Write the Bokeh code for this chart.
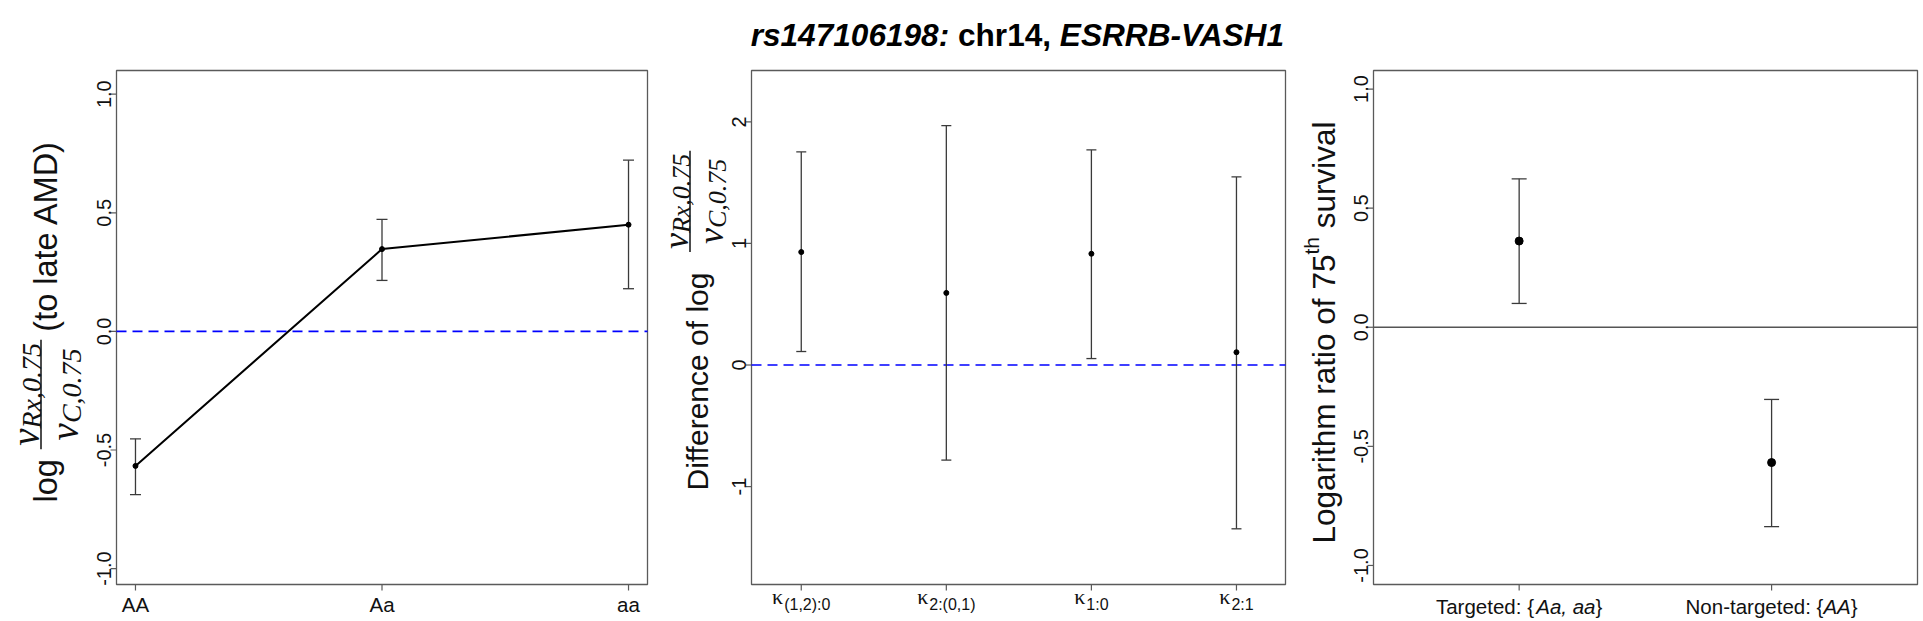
import math
from bokeh.plotting import figure
from bokeh.models import Range1d
from bokeh.core.properties import value
from bokeh.embed import file_html
from bokeh.resources import INLINE

# ---------------- data ----------------
genotypes = ["AA", "Aa", "aa"]
p1_est = [-0.567, 0.347, 0.450]
p1_lo = [-0.688, 0.215, 0.180]
p1_hi = [-0.453, 0.472, 0.722]

kappa_subs = ["(1,2):0", "2:(0,1)", "1:0", "2:1"]
p2_est = [0.929, 0.593, 0.915, 0.105]
p2_lo = [0.111, -0.782, 0.053, -1.347]
p2_hi = [1.752, 1.968, 1.769, 1.547]

group_names = ["Targeted: {", "Non-targeted: {"]
group_sets = ["Aa, aa", "AA"]
p3_est = [0.362, -0.568]
p3_lo = [0.100, -0.837]
p3_hi = [0.623, -0.303]

p1_yticks = [-1.0, -0.5, 0.0, 0.5, 1.0]
p1_ytick_labels = ["-1.0", "-0.5", "0.0", "0.5", "1.0"]
p2_yticks = [-1.0, 0.0, 1.0, 2.0]
p2_ytick_labels = ["-1", "0", "1", "2"]
p3_yticks = [-1.0, -0.5, 0.0, 0.5, 1.0]
p3_ytick_labels = ["-1.0", "-0.5", "0.0", "0.5", "1.0"]

title_parts = ["rs147106198:", "chr14,", "ESRRB-VASH1"]

# axis limits of each panel
p1_xlim, p1_ylim = (0.923, 3.077), (-1.067, 1.10)
p2_xlim, p2_ylim = (0.657, 4.338), (-1.805, 2.422)
p3_xlim, p3_ylim = (0.423, 2.578), (-1.08, 1.078)

# ---------------- fonts / metrics ----------------
SANS = "Liberation Sans"
SERIF = "Liberation Serif"
W_SANS = {' ': 278, '(': 333, ')': 333, ',': 278, '-': 333, '.': 278, ':': 278,
          '{': 334, '}': 334, 'A': 667, 'C': 722, 'D': 722, 'L': 556, 'M': 833,
          'N': 722, 'T': 611, 'a': 556, 'c': 500, 'd': 556, 'e': 556, 'f': 278,
          'g': 556, 'h': 556, 'i': 222, 'l': 222, 'm': 833, 'n': 556, 'o': 556,
          'r': 333, 's': 500, 't': 278, 'u': 556, 'v': 500}
for _d in "0123456789":
    W_SANS[_d] = 556
W_BOLD = {' ': 278, ',': 278, '-': 333, ':': 333, 'A': 722, 'B': 722, 'E': 667,
          'H': 722, 'R': 722, 'S': 667, 'V': 667, 'c': 556, 'h': 611, 'r': 389,
          's': 556}
for _d in "0123456789":
    W_BOLD[_d] = 556
W_SERIF_IT = {'R': 611, 'x': 444, ',': 250, '.': 250, 'C': 667, 'ν': 444}
for _d in "0123456789":
    W_SERIF_IT[_d] = 500


def tw(s, table, size):
    return sum(table[c] for c in s) * size / 1000.0


# ---------------- canvas ----------------
CW, CH = 1920, 620
T, BM = 70, 584                      # box top / bottom (px)
BOXES = {"p1": (116, 647), "p2": (751, 1285), "p3": (1373, 1917)}
EB = "#3a3a3a"
BOX = "#5a5a5a"
TXT = "#111111"
A90 = math.pi / 2


def xr_for(lim, L, R):
    a, b = lim
    k = (b - a) / (R - L)
    return Range1d(a - L * k, b + (CW - R) * k)


def yr_for(lim):
    c, d = lim
    k = (d - c) / (BM - T)
    return Range1d(c - (CH - BM) * k, d + T * k)


p = figure(width=CW, height=CH, x_range=Range1d(0, CW), y_range=Range1d(CH, 0),
           output_backend="svg", toolbar_location=None, title=None,
           x_axis_location=None, y_axis_location=None,
           min_border=0, min_border_left=0, min_border_right=0,
           min_border_top=0, min_border_bottom=0)
p.grid.visible = False
p.outline_line_color = None
p.background_fill_color = "white"
p.border_fill_color = "white"

p.extra_x_ranges = {"p1": xr_for(p1_xlim, *BOXES["p1"]),
                    "p2": xr_for(p2_xlim, *BOXES["p2"]),
                    "p3": xr_for(p3_xlim, *BOXES["p3"])}
p.extra_y_ranges = {"p1": yr_for(p1_ylim), "p2": yr_for(p2_ylim), "p3": yr_for(p3_ylim)}


def txt(x, y, text, size, font=SANS, style="normal", angle=0.0, align="left",
        xr="default", yr="default", xoff=0.0, color=TXT):
    n = len(text) if isinstance(text, list) else 1
    if not isinstance(text, list):
        x, y, text = [x], [y], [text]
    if not isinstance(xoff, list):
        xoff = [xoff] * n
    p.text(x=x, y=y, text=text, x_offset=xoff, angle=angle,
           text_align=align, text_baseline="alphabetic",
           text_font=value(font), text_font_size=f"{size}px",
           text_font_style=style, text_color=color,
           x_range_name=xr, y_range_name=yr)


def panel_frame(name, yticks, ylabels, xticks):
    L, R = BOXES[name]
    p.quad(left=[L], right=[R], top=[T], bottom=[BM], fill_color=None,
           line_color=BOX, line_width=1.3)
    p.segment(x0=[L - 6] * len(yticks), x1=[L] * len(yticks), y0=yticks, y1=yticks,
              line_color=BOX, line_width=1.2, y_range_name=name)
    txt([L - 12.5] * len(yticks), yticks, ylabels, 20, angle=A90, align="center",
        yr=name)
    p.segment(x0=xticks, x1=xticks, y0=[BM] * len(xticks), y1=[BM + 6] * len(xticks),
              line_color=BOX, line_width=1.2, x_range_name=name)
    return L, R


def errbars(name, xs, est, lo, hi, cap):
    p.segment(x0=xs, x1=xs, y0=lo, y1=hi, line_color=EB, line_width=1.3,
              x_range_name=name, y_range_name=name)
    p.scatter(xs, lo, marker="dash", size=cap, line_color=EB, line_width=1.3,
              x_range_name=name, y_range_name=name)
    p.scatter(xs, hi, marker="dash", size=cap, line_color=EB, line_width=1.3,
              x_range_name=name, y_range_name=name)


def frac_label(bar_x, bar_start, nu, sub, s):
    """rotated fraction nu_{Rx,0.75} / nu_{C,0.75} (px)"""
    w_nu = tw("ν", W_SERIF_IT, nu)
    L_n = w_nu + tw("Rx,0.75", W_SERIF_IT, sub)
    L_d = w_nu + tw("C,0.75", W_SERIF_IT, sub)
    L_bar = L_n + 6 * s
    c = bar_start - L_bar / 2
    p.segment(x0=[bar_x], x1=[bar_x], y0=[bar_start], y1=[bar_start - L_bar],
              line_color="black", line_width=1.4)
    n0 = c + L_n / 2
    txt(bar_x - 14.0 * s, n0, "ν", nu, SERIF, "italic", angle=A90)
    txt(bar_x - 9.0 * s, n0 - w_nu, "Rx,0.75", sub, SERIF, "italic", angle=A90)
    d0 = c + L_d / 2
    txt(bar_x + 21.0 * s, d0, "ν", nu, SERIF, "italic", angle=A90)
    txt(bar_x + 27.5 * s, d0 - w_nu, "C,0.75", sub, SERIF, "italic", angle=A90)
    return bar_start - L_bar


# ================= panel 1 =================
x1 = list(range(1, len(genotypes) + 1))
L1, R1 = panel_frame("p1", p1_yticks, p1_ytick_labels, x1)
p.line([L1, R1], [0, 0], line_color="#0000ff", line_dash="10 6", line_width=1.6,
       y_range_name="p1")
errbars("p1", x1, p1_est, p1_lo, p1_hi, 11)
p.line(x1, p1_est, line_color="black", line_width=2, x_range_name="p1", y_range_name="p1")
p.scatter(x1, p1_est, size=5, color="black", x_range_name="p1", y_range_name="p1")
txt(x1, [604] * len(x1), genotypes, 20.5, align="center", xr="p1")
F1 = 32.5
base1 = 45
txt(base1, 502, "log", F1, angle=A90)
bar_start1 = 502 - tw("log", W_SANS, F1) - 10
end1 = frac_label(40.5, bar_start1, 39, 28, 1.1)
txt(base1, end1 - 8, "(to late AMD)", F1, angle=A90)

# ================= panel 2 =================
x2 = list(range(1, len(kappa_subs) + 1))
L2, R2 = panel_frame("p2", p2_yticks, p2_ytick_labels, x2)
p.line([L2, R2], [0, 0], line_color="#0000ff", line_dash="10 6", line_width=1.6,
       y_range_name="p2")
errbars("p2", x2, p2_est, p2_lo, p2_hi, 10)
p.scatter(x2, p2_est, size=5, color="black", x_range_name="p2", y_range_name="p2")
wk = 0.55 * 22
k_off, s_off = [], []
for sb in kappa_subs:
    Lk = wk + tw(sb, W_SANS, 16)
    k_off.append(-Lk / 2)
    s_off.append(-Lk / 2 + wk)
txt(x2, [596] * len(x2), ["κ"] * len(x2), 22, SERIF, xr="p2", xoff=k_off)
txt(x2, [604] * len(x2), kappa_subs, 16, SANS, xr="p2", xoff=s_off)
F2 = 30
base2 = 696.6
txt(base2, 490, "Difference of log", F2, angle=A90)
bar_start2 = 490 - tw("Difference of log", W_SANS, F2) - 20
frac_label(689.5, bar_start2, 36, 26, 1.0)

# title (centred over middle panel)
FT = 31.6
wt = [tw(title_parts[0], W_BOLD, FT), tw(" ", W_BOLD, FT),
      tw(title_parts[1], W_BOLD, FT), tw(" ", W_BOLD, FT),
      tw(title_parts[2], W_BOLD, FT)]
t0 = (L2 + R2) / 2 - sum(wt) / 2
ty = 34
txt(t0, ty, title_parts[0], FT, style="bold italic", color="black")
txt(t0 + wt[0] + wt[1], ty, title_parts[1], FT, style="bold", color="black")
txt(t0 + sum(wt[:4]), ty, title_parts[2], FT, style="bold italic", color="black")

# ================= panel 3 =================
x3 = list(range(1, len(p3_est) + 1))
L3, R3 = panel_frame("p3", p3_yticks, p3_ytick_labels, x3)
p.line([L3, R3], [0, 0], line_color="#555555", line_width=1.5, y_range_name="p3")
errbars("p3", x3, p3_est, p3_lo, p3_hi, 15)
p.scatter(x3, p3_est, size=8, color="black", x_range_name="p3", y_range_name="p3")
FX = 20.5
oa, ob, oc = [], [], []
for nm, st in zip(group_names, group_sets):
    w_a = tw(nm, W_SANS, FX)
    w_b = tw(st, W_SANS, FX)
    w_c = tw("}", W_SANS, FX)
    Lt = w_a + w_b + w_c
    oa.append(-Lt / 2)
    ob.append(-Lt / 2 + w_a)
    oc.append(-Lt / 2 + w_a + w_b)
txt(x3, [606] * len(x3), group_names, FX, xr="p3", xoff=oa)
txt(x3, [606] * len(x3), group_sets, FX, style="italic", xr="p3", xoff=ob)
txt(x3, [606] * len(x3), ["}"] * len(x3), FX, xr="p3", xoff=oc)
F3 = 31.5
base3 = 1323.4
s3 = 543
part1 = "Logarithm ratio of 75"
txt(base3, s3, part1, F3, angle=A90)
u_th = s3 - tw(part1, W_SANS, F3)
txt(base3 - 12, u_th, "th", 21, angle=A90)
u_sv = u_th - tw("th", W_SANS, 21) - tw(" ", W_SANS, F3)
txt(base3, u_sv, "survival", F3, angle=A90)

open("out.html", "w").write(file_html(p, INLINE))
